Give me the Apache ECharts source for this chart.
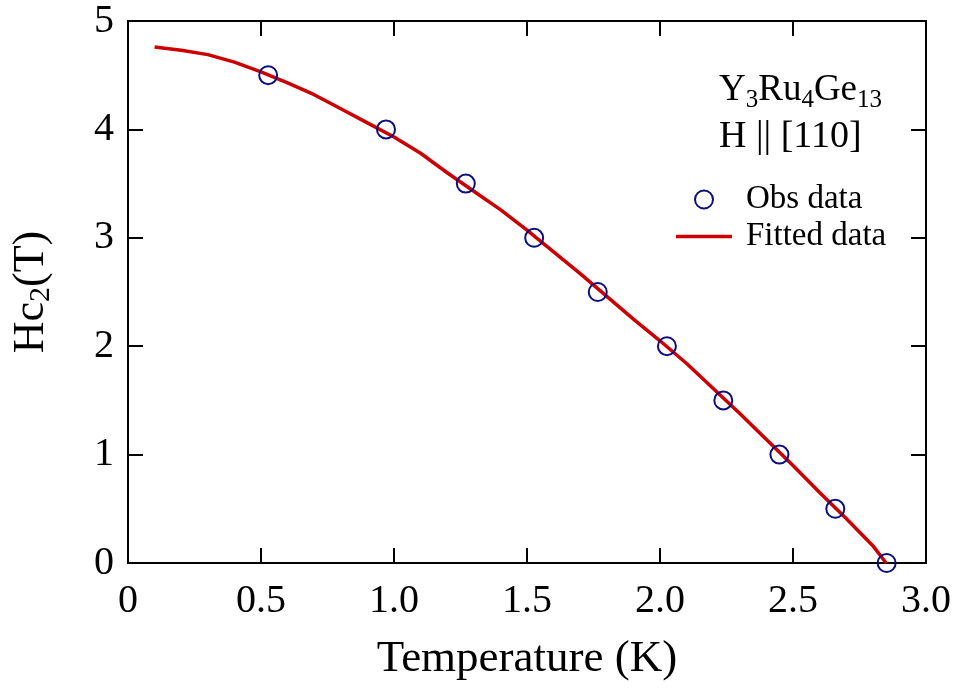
<!DOCTYPE html>
<html>
<head>
<meta charset="utf-8">
<script src="https://cdn.jsdelivr.net/npm/echarts@6/dist/echarts.min.js"></script>
<style>
  html, body { margin: 0; padding: 0; background: #fff; }
  #chart { width: 956px; height: 689px; }
</style>
</head>
<body>
<div id="chart"></div>
<script>
// observed Hc2 points (T in K, field in T)
var obsT = [0.527, 0.970, 1.270, 1.527, 1.766, 2.026, 2.238, 2.449, 2.659, 2.852];
var obsH = [4.5, 4.0, 3.5, 3.0, 2.5, 2.0, 1.5, 1.0, 0.5, 0.0];

// fitted curve
var fitT = [0.10, 0.20, 0.30, 0.40, 0.50, 0.60, 0.70, 0.80, 0.90, 1.00,
            1.10, 1.20, 1.30, 1.40, 1.50, 1.60, 1.70, 1.80, 1.90, 2.00,
            2.10, 2.20, 2.30, 2.40, 2.50, 2.60, 2.70, 2.80, 2.85];
var fitH = [4.76, 4.73, 4.69, 4.62, 4.53, 4.43, 4.32, 4.19, 4.06, 3.93,
            3.78, 3.60, 3.43, 3.26, 3.07, 2.87, 2.67, 2.46, 2.25, 2.05,
            1.84, 1.61, 1.38, 1.14, 0.90, 0.65, 0.41, 0.16, 0.00];

var xTickLabels = ['0', '0.5', '1.0', '1.5', '2.0', '2.5', '3.0'];
var yTickLabels = ['0', '1', '2', '3', '4', '5'];

var FONT = 'Liberation Serif';
var RED = '#cc0000';
var NAVY = '#0d0d80';

function pairs(xs, ys) {
  return xs.map(function (x, i) { return [x, ys[i]]; });
}

var chart = echarts.init(document.getElementById('chart'), null, { renderer: 'canvas' });

var axisLineStyle = { color: '#000', width: 2 };
var tickStyle = { show: true, inside: true, length: 15, lineStyle: { color: '#000', width: 2 } };

var subRich = {
  n: { fontFamily: FONT, fontSize: 44, color: '#000', lineHeight: 50 },
  s: { fontFamily: FONT, fontSize: 30, color: '#000', lineHeight: 30, verticalAlign: 'bottom' }
};

// thin horizontal bar inside an 18px tall box (invisible end points keep the box height)
var lineIcon = 'path://M0,0L0,0ZM0,7.3L56,7.3L56,10.7L0,10.7ZM56,18L56,18Z';

var option = {
  animation: false,
  backgroundColor: '#fff',
  grid: { left: 128, right: 30, top: 21, bottom: 126 },
  xAxis: [
    {
      type: 'value', min: 0, max: 3, interval: 0.5,
      name: 'Temperature (K)', nameLocation: 'middle', nameGap: 74,
      nameTextStyle: { fontFamily: FONT, fontSize: 45, color: '#000' },
      axisLine: { onZero: false, lineStyle: axisLineStyle },
      axisTick: tickStyle,
      splitLine: { show: false },
      axisLabel: {
        fontFamily: FONT, fontSize: 40, color: '#000', margin: 18,
        formatter: function (v) { return xTickLabels[Math.round(v / 0.5)]; }
      }
    },
    {
      type: 'value', min: 0, max: 3, interval: 0.5, position: 'top',
      axisLine: { onZero: false, lineStyle: axisLineStyle },
      axisTick: tickStyle,
      axisLabel: { show: false },
      splitLine: { show: false }
    }
  ],
  yAxis: [
    {
      type: 'value', min: 0, max: 5, interval: 1,
      name: '{n|Hc}{s|2}{n|(T)}', nameLocation: 'middle', nameGap: 72, nameRotate: 90,
      nameTextStyle: { rich: subRich },
      axisLine: { onZero: false, lineStyle: axisLineStyle },
      axisTick: tickStyle,
      splitLine: { show: false },
      axisLabel: {
        fontFamily: FONT, fontSize: 40, color: '#000', margin: 14,
        formatter: function (v) { return yTickLabels[Math.round(v)]; }
      }
    },
    {
      type: 'value', min: 0, max: 5, interval: 1, position: 'right',
      axisLine: { onZero: false, lineStyle: axisLineStyle },
      axisTick: tickStyle,
      axisLabel: { show: false },
      splitLine: { show: false }
    }
  ],
  legend: {
    orient: 'vertical',
    left: 671, top: 178,
    itemWidth: 56, itemHeight: 18, itemGap: 4,
    textStyle: { fontFamily: FONT, fontSize: 33, color: '#000', padding: [0, 0, 0, 9] },
    data: [
      { name: 'Obs data', icon: 'circle', itemStyle: { color: 'rgba(0,0,0,0)', borderColor: NAVY, borderWidth: 2 } },
      { name: 'Fitted data', icon: lineIcon, itemStyle: { color: RED, borderWidth: 0 } }
    ]
  },
  graphic: [
    {
      type: 'text', left: 719, top: 72,
      style: {
        text: '{n|Y}{s|3}{n|Ru}{s|4}{n|Ge}{s|13}',
        rich: {
          n: { fontFamily: FONT, fontSize: 37, fill: '#000', lineHeight: 44 },
          s: { fontFamily: FONT, fontSize: 25, fill: '#000', lineHeight: 26, verticalAlign: 'bottom' }
        }
      }
    },
    {
      type: 'text', left: 719, top: 118,
      style: { text: 'H || [110]', fontFamily: FONT, fontSize: 38, fill: '#000' }
    }
  ],
  series: [
    {
      name: 'Fitted data',
      type: 'line',
      data: pairs(fitT, fitH),
      symbol: 'none',
      smooth: false,
      lineStyle: { color: RED, width: 3.5 },
      itemStyle: { color: RED },
      z: 2
    },
    {
      name: 'Obs data',
      type: 'scatter',
      data: pairs(obsT, obsH),
      symbol: 'circle',
      symbolSize: 18,
      itemStyle: { color: 'rgba(0,0,0,0)', borderColor: NAVY, borderWidth: 2, opacity: 1 },
      z: 3
    }
  ]
};

chart.setOption(option);
</script>
</body>
</html>
